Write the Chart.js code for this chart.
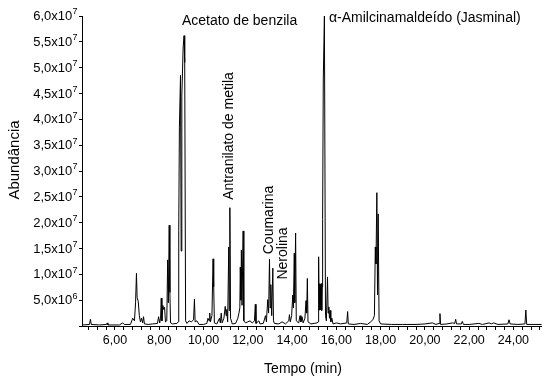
<!DOCTYPE html>
<html>
<head>
<meta charset="utf-8">
<script src="https://cdn.jsdelivr.net/npm/chart.js@4.4.1/dist/chart.umd.min.js"></script>
<style>
html,body{margin:0;padding:0;background:#fff;}
#wrap{width:543px;height:377px;position:relative;}
</style>
</head>
<body>
<div id="wrap"><canvas id="c" width="543" height="377"></canvas></div>
<script>
// ---- data ----
const retentionTimes = [
4.55,4.85,4.89,4.93,5.30,5.62,5.65,5.68,6.20,6.35,6.42,6.70,6.80,6.88,6.93,6.97,7.00,7.05,7.10,7.15,
7.20,7.25,7.29,7.33,7.50,7.70,7.92,7.97,8.02,8.06,8.09,8.12,8.16,8.20,8.24,8.28,8.34,8.38,8.41,8.45,
8.48,8.51,8.60,8.80,8.86,8.88,8.91,8.96,8.99,9.02,9.08,9.12,9.15,9.19,9.25,9.35,9.45,9.55,9.59,9.62,
9.70,9.80,10.00,10.15,10.20,10.25,10.28,10.31,10.38,10.43,10.46,10.49,10.60,10.72,10.76,10.80,10.84,10.92,10.98,11.02,
11.05,11.09,11.14,11.16,11.19,11.22,11.30,11.45,11.55,11.60,11.64,11.66,11.69,11.71,11.74,11.79,11.82,11.90,12.00,12.10,
12.20,12.30,12.34,12.37,12.50,12.55,12.70,12.80,12.84,12.90,12.94,12.98,13.01,13.04,13.08,13.13,13.16,13.20,13.40,13.55,
13.70,13.85,13.88,13.92,13.98,14.03,14.06,14.10,14.12,14.16,14.19,14.30,14.36,14.40,14.45,14.50,14.58,14.63,14.66,14.69,
14.72,14.85,15.00,15.12,15.19,15.20,15.22,15.24,15.26,15.28,15.30,15.32,15.34,15.36,15.38,15.41,15.46,15.51,15.55,15.60,
15.63,15.66,15.69,15.72,15.75,15.80,15.85,16.00,16.20,16.47,16.51,16.54,16.80,17.10,17.40,17.55,17.65,17.72,17.76,17.79,
17.83,17.86,17.89,17.93,18.00,18.50,19.00,19.60,20.00,20.34,20.50,20.64,20.68,20.71,21.00,21.24,21.35,21.39,21.43,21.65,
21.69,21.74,22.00,22.44,22.60,22.90,23.00,23.10,23.30,23.75,23.80,23.85,24.20,24.52,24.56,24.60,25.28
];
const abundance = [
0.2e6,0.3e6,1.3e6,0.3e6,0.2e6,0.3e6,0.6e6,0.2e6,0.2e6,0.6e6,0.3e6,0.3e6,1.5e6,1.0e6,4.5e6,10.2e6,5.5e6,4.8e6,2.0e6,0.8e6,
1.5e6,0.6e6,1.8e6,0.4e6,0.3e6,0.4e6,0.5e6,1.8e6,0.6e6,1.5e6,5.4e6,1.0e6,4.0e6,3.2e6,3.6e6,0.8e6,1.0e6,12.8e6,4.5e6,19.5e6,
6.5e6,0.6e6,0.4e6,0.5e6,0.8e6,18.5e6,38.5e6,48.5e6,14.5e6,44.5e6,54.0e6,56.2e6,51.0e6,1.0e6,0.5e6,1.0e6,0.8e6,1.2e6,5.2e6,0.8e6,
1.0e6,0.3e6,0.3e6,0.5e6,1.5e6,1.0e6,2.5e6,0.8e6,2.0e6,13.0e6,7.6e6,0.6e6,0.4e6,1.5e6,0.6e6,2.5e6,0.6e6,1.5e6,3.8e6,2.0e6,
3.2e6,0.8e6,15.3e6,3.0e6,22.9e6,1.5e6,0.4e6,0.5e6,1.5e6,2.5e6,3.5e6,11.4e6,5.0e6,14.7e6,4.0e6,18.4e6,1.0e6,0.6e6,0.8e6,1.0e6,
0.6e6,1.0e6,4.2e6,0.5e6,1.0e6,0.4e6,0.5e6,2.0e6,0.8e6,5.1e6,2.5e6,12.9e6,3.5e6,8.0e6,2.0e6,11.2e6,1.0e6,0.5e6,0.4e6,0.8e6,
0.4e6,1.0e6,2.2e6,0.8e6,2.0e6,6.0e6,3.5e6,14.1e6,4.5e6,18.0e6,1.0e6,0.6e6,2.0e6,0.8e6,1.8e6,0.6e6,1.5e6,4.9e6,2.5e6,9.2e6,
0.8e6,0.4e6,0.5e6,0.6e6,0.8e6,13.4e6,3.1e6,8.2e6,3.1e6,8.0e6,3.2e6,8.2e6,3.0e6,7.5e6,20.6e6,47.8e6,60.0e6,2.0e6,1.0e6,9.5e6,
2.5e6,3.7e6,1.5e6,3.0e6,0.8e6,1.5e6,0.4e6,0.6e6,0.4e6,0.6e6,2.8e6,0.4e6,0.3e6,0.5e6,0.3e6,0.8e6,1.2e6,2.0e6,15.3e6,12.0e6,
25.8e6,6.0e6,21.7e6,1.0e6,0.4e6,0.3e6,0.3e6,0.3e6,0.4e6,0.6e6,0.3e6,0.5e6,2.4e6,0.3e6,0.4e6,0.6e6,0.5e6,1.3e6,0.4e6,0.4e6,
0.9e6,0.3e6,0.3e6,0.5e6,0.3e6,0.6e6,0.4e6,0.6e6,0.3e6,0.4e6,1.2e6,0.4e6,0.3e6,0.4e6,3.1e6,0.3e6,0.3e6
];
const xTickValues = [4.8,5.2,5.6,6.0,6.4,6.8,7.2,7.6,8.0,8.4,8.8,9.2,9.6,10.0,10.4,10.8,11.2,11.6,12.0,12.4,12.8,13.2,13.6,14.0,14.4,14.8,15.2,15.6,16.0,16.4,16.8,17.2,17.6,18.0,18.4,18.8,19.2,19.6,20.0,20.4,20.8,21.2,21.6,22.0,22.4,22.8,23.2,23.6,24.0,24.4,24.8,25.2];
const xLabelValues = [6,8,10,12,14,16,18,20,22,24];
const xLabelTexts = ['6,00','8,00','10,00','12,00','14,00','16,00','18,00','20,00','22,00','24,00'];
const yTickValues = [0,5e6,1e7,1.5e7,2e7,2.5e7,3e7,3.5e7,4e7,4.5e7,5e7,5.5e7,6e7];
const yTickBase = ['','5,0x10','1,0x10','1,5x10','2,0x10','2,5x10','3,0x10','3,5x10','4,0x10','4,5x10','5,0x10','5,5x10','6,0x10'];
const yTickExp = ['','6','7','7','7','7','7','7','7','7','7','7','7'];
const peakNames = ['Acetato de benzila','Antranilato de metila','Coumarina','Nerolina','\u03B1-Amilcinamaldeído (Jasminal)'];
const xTitle = 'Tempo (min)';
const yTitle = 'Abundância';

const FONT = "Arial, 'Liberation Sans', sans-serif";

const textPlugin = {
  id: 'texts',
  afterDraw(chart) {
    const ctx = chart.ctx;
    const ys = chart.scales.y;
    ctx.save();
    ctx.fillStyle = '#000';
    // y tick labels with superscript exponents
    yTickValues.forEach((v, i) => {
      if (!yTickBase[i]) return;
      const py = ys.getPixelForValue(v);
      ctx.font = '9px ' + FONT;
      ctx.textAlign = 'right';
      ctx.textBaseline = 'middle';
      const ew = ctx.measureText(yTickExp[i]).width;
      ctx.fillText(yTickExp[i], 77.5, py - 4);
      ctx.font = '13px ' + FONT;
      ctx.fillText(yTickBase[i], 77.5 - ew - 0.3, py + 0.5);
    });
    // horizontal peak labels
    ctx.font = '14px ' + FONT;
    ctx.textAlign = 'left';
    ctx.textBaseline = 'middle';
    ctx.fillText(peakNames[0], 182, 21);
    ctx.fillText(peakNames[4], 329, 18);
    // rotated peak labels
    const rot = (txt, cx, cy, size) => {
      ctx.save();
      ctx.translate(cx, cy);
      ctx.rotate(-Math.PI / 2);
      ctx.font = size + 'px ' + FONT;
      ctx.textAlign = 'center';
      ctx.textBaseline = 'middle';
      ctx.fillText(txt, 0, 0);
      ctx.restore();
    };
    rot(peakNames[1], 229.5, 136, 14);
    rot(peakNames[2], 269.5, 220, 14);
    rot(peakNames[3], 283.5, 253.5, 14);
    // axis titles
    rot(yTitle, 15, 160, 15);
    ctx.font = '14px ' + FONT;
    ctx.textAlign = 'center';
    ctx.textBaseline = 'middle';
    ctx.fillText(xTitle, 303, 369);
    ctx.restore();
  }
};

const pts = retentionTimes.map((t, i) => ({x: t, y: abundance[i]}));

new Chart(document.getElementById('c'), {
  type: 'scatter',
  data: {
    datasets: [{
      data: pts,
      showLine: true,
      borderColor: '#000',
      borderWidth: 1,
      pointRadius: 0,
      tension: 0,
      fill: false
    }]
  },
  options: {
    responsive: false,
    animation: false,
    events: [],
    layout: { padding: { top: 16, right: 0, left: 0, bottom: 0 } },
    plugins: { legend: { display: false }, tooltip: { enabled: false }, title: { display: false } },
    scales: {
      x: {
        type: 'linear',
        min: 4.51,
        max: 25.28,
        afterBuildTicks: (s) => { s.ticks = xTickValues.map(v => ({value: v})); },
        afterFit: (s) => { s.height = 51; },
        grid: { drawOnChartArea: false, drawTicks: true, tickLength: 4, color: '#000', lineWidth: 1 },
        border: { color: '#000', width: 1 },
        ticks: {
          autoSkip: false,
          maxRotation: 0,
          padding: 3,
          color: '#000',
          font: { family: FONT, size: 12.5 },
          callback: (v) => {
            const k = xLabelValues.findIndex(l => Math.abs(l - v) < 1e-6);
            return k >= 0 ? xLabelTexts[k] : '';
          }
        }
      },
      y: {
        type: 'linear',
        min: 0,
        max: 6e7,
        afterBuildTicks: (s) => { s.ticks = yTickValues.map(v => ({value: v})); },
        afterFit: (s) => { s.width = 82; },
        grid: { drawOnChartArea: false, drawTicks: true, tickLength: 3, color: '#000', lineWidth: 1 },
        border: { color: '#000', width: 1 },
        ticks: { callback: () => '', padding: 0 }
      }
    }
  },
  plugins: [textPlugin]
});
</script>
</body>
</html>
